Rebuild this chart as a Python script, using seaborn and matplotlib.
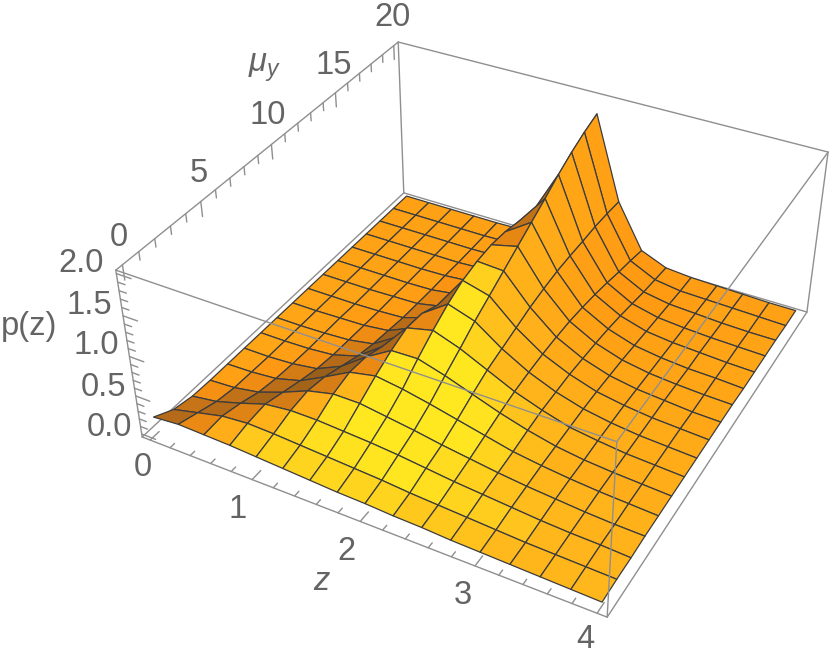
import numpy as np
import seaborn as sns
import matplotlib
matplotlib.use('Agg')
import matplotlib.pyplot as plt

# values, one row per mu_y mesh line
z_values = [0, 0.25, 0.5, 0.75, 1, 1.25, 1.5, 1.75, 2, 2.25, 2.5, 2.75, 3, 3.25, 3.5, 3.75, 4]
mu_values = [0, 1.25, 2.5, 3.75, 5, 6.25, 7.5, 8.75, 10, 11.25, 12.5, 13.75, 15, 16.25, 17.5, 18.75, 20]
p_values = [
    [.19, .22, .21, .20, .18, .16, .14, .12, .11, .09, .08, .06, .05, .04, .03, .02, .01],
    [.06, .14, .22, .25, .24, .22, .20, .18, .16, .13, .11, .09, .07, .05, .04, .03, .02],
    [.01, .06, .16, .27, .31, .31, .29, .27, .24, .20, .16, .13, .10, .07, .05, .04, .02],
    [.00, .02, .08, .20, .34, .42, .42, .37, .32, .26, .21, .16, .12, .09, .06, .04, .03],
    [.00, .01, .04, .13, .30, .48, .55, .50, .43, .35, .27, .19, .14, .10, .07, .05, .03],
    [.00, .00, .02, .07, .22, .46, .66, .67, .57, .45, .33, .23, .15, .10, .07, .05, .03],
    [.00, .00, .01, .04, .14, .38, .74, .82, .70, .54, .38, .26, .16, .11, .07, .05, .03],
    [.00, .00, .01, .03, .09, .30, .72, .95, .84, .60, .41, .27, .17, .11, .07, .05, .03],
    [.00, .00, .01, .02, .06, .21, .62, 1.05, .96, .66, .43, .28, .17, .11, .07, .05, .03],
    [.00, .00, .00, .01, .03, .14, .50, 1.10, 1.08, .72, .44, .27, .16, .10, .07, .04, .03],
    [.00, .00, .00, .01, .02, .09, .40, 1.12, 1.20, .76, .44, .26, .15, .09, .06, .04, .03],
    [.00, .00, .00, .00, .01, .06, .32, 1.10, 1.32, .79, .42, .24, .13, .08, .05, .04, .02],
    [.00, .00, .00, .00, .01, .04, .25, 1.05, 1.44, .80, .39, .21, .11, .07, .05, .03, .02],
    [.00, .00, .00, .00, .00, .02, .18, .98, 1.57, .80, .35, .17, .09, .06, .04, .03, .02],
    [.00, .00, .00, .00, .00, .01, .13, .90, 1.68, .81, .30, .13, .07, .05, .03, .02, .02],
    [.00, .00, .00, .00, .00, .01, .09, .82, 1.77, .80, .26, .10, .05, .04, .03, .02, .01],
    [.00, .00, .00, .00, .00, .01, .06, .75, 1.84, .78, .21, .07, .04, .03, .02, .01, .01],
]
z_ticks = ['0', '1', '2', '3', '4']
mu_ticks = ['0', '5', '10', '15', '20']
p_ticks = ['0.0', '0.5', '1.0', '1.5', '2.0']

Z_LO, Z_HI = -0.08, 4.08
MU_LO, MU_HI = -0.4, 20.4
P_LO, P_HI = -0.04, 2.04
BOX = '#8f8f8f'
TEXT = '#646464'

sns.set_theme(style='white')
plt.rcParams['font.family'] = ['Liberation Sans', 'DejaVu Sans']
plt.rcParams['mathtext.fontset'] = 'custom'
plt.rcParams['mathtext.it'] = 'Liberation Sans:italic'
plt.rcParams['mathtext.rm'] = 'Liberation Sans'

W, H = 830, 655
fig = plt.figure(figsize=(W / 100, H / 100), dpi=100, facecolor='white')
# 3d axes are forced square, so make the square as wide as the figure
ax = fig.add_axes([0, (H - W) / 2 / H, 1, W / H], projection='3d', computed_zorder=False)
ax.set_axis_off()

X, Y = np.meshgrid(z_values, mu_values)
P = np.array(p_values)


def cell_shades():
    # lambert style shade per mesh cell, in box units, lamp off the front right corner
    nx = (X[0, 1] - X[0, 0]) / (Z_HI - Z_LO)
    ny = (Y[1, 0] - Y[0, 0]) / (MU_HI - MU_LO)
    pz = P / (P_HI - P_LO)
    dx = (pz[:-1, 1:] + pz[1:, 1:] - pz[:-1, :-1] - pz[1:, :-1]) / 2 / nx
    dy = (pz[1:, :-1] + pz[1:, 1:] - pz[:-1, :-1] - pz[:-1, 1:]) / 2 / ny
    normal = np.stack([-dx, -dy, np.ones_like(dx)], axis=-1)
    normal /= np.linalg.norm(normal, axis=-1, keepdims=True)
    cx = (X[:-1, :-1] + X[1:, 1:]) / 2 / Z_HI
    cy = (Y[:-1, :-1] + Y[1:, 1:]) / 2 / MU_HI
    cz = (pz[:-1, :-1] + pz[1:, 1:]) / 2
    light = np.stack([1.3 - cx, -1.3 - cy, 1.0 - cz], axis=-1)
    light /= np.linalg.norm(light, axis=-1, keepdims=True)
    return (normal * light).sum(axis=-1)


ramp = sns.blend_palette(['#6e4a1c', '#b86c18', '#ff9612', '#ffb81c', '#ffe820'], as_cmap=True)
shade = np.interp(cell_shades(), [-0.55, -0.25, 0.22, 0.68, 0.9], [0, 0.25, 0.5, 0.75, 1])

surf = ax.plot_surface(X, Y, P, facecolors=ramp(shade), rstride=1, cstride=1, shade=False, zorder=2)
surf.set_edgecolor('#3c3c3c')
surf.set_linewidth(0.9)


def box_line(a, b, zorder):
    ax.plot([a[0], b[0]], [a[1], b[1]], [a[2], b[2]], color=BOX, lw=1.0, zorder=zorder)


c000 = (Z_LO, MU_LO, P_LO)
c100 = (Z_HI, MU_LO, P_LO)
c010 = (Z_LO, MU_HI, P_LO)
c110 = (Z_HI, MU_HI, P_LO)
c001 = (Z_LO, MU_LO, P_HI)
c101 = (Z_HI, MU_LO, P_HI)
c011 = (Z_LO, MU_HI, P_HI)
c111 = (Z_HI, MU_HI, P_HI)

# edges behind the surface
for a, b in [(c000, c100), (c000, c010), (c100, c110), (c010, c110), (c000, c001), (c010, c011),
             (c001, c011), (c011, c111), (c110, c111)]:
    box_line(a, b, 1)
# edges in front of it
for a, b in [(c001, c101), (c101, c111), (c100, c101)]:
    box_line(a, b, 3)

# ticks
for t in np.arange(0, 4.01, 0.2):
    n = 0.6 if abs(t - round(t)) < 1e-6 else 0.3
    box_line((t, MU_LO, P_LO), (t, MU_LO + n, P_LO), 1)
for t in np.arange(0, 20.1, 1):
    n = 0.18 if t % 5 == 0 else 0.1
    box_line((Z_LO, t, P_HI), (Z_LO, t, P_HI - n), 1)
for t in np.arange(0, 2.01, 0.1):
    n = 0.14 if round(t * 10) % 5 == 0 else 0.07
    box_line((Z_LO, MU_LO, t), (Z_LO + n, MU_LO, t), 1)

fig.canvas.draw()

# camera: fit the projection to where the eight box corners sit in the picture
corners = [c000, c100, c010, c110, c001, c101, c011, c111]
pixels = [(142, 437), (607, 617), (404, 193), (807, 312), (116, 270), (617, 442), (398, 42), (828, 152)]
rows, rhs = [], []
for (a, b, c), (u, v) in zip(corners, pixels):
    v = H - v
    rows.append([a, b, c, 1, 0, 0, 0, 0, -u * a, -u * b, -u * c])
    rows.append([0, 0, 0, 0, a, b, c, 1, -v * a, -v * b, -v * c])
    rhs += [u, v]
h = np.linalg.lstsq(np.array(rows), np.array(rhs, dtype=float), rcond=None)[0]
cam = np.append(h, 1.0).reshape(3, 4)
cam = ax.transData.inverted().get_matrix() @ cam
M = np.array([cam[0], cam[1], [0, 0, 0, -1.0], cam[2]])
ax.get_proj = lambda: M


def label(x, y, s, **kw):
    fig.text(x / W, 1 - y / H, s, color=TEXT, fontsize=23.5, va='center', **kw)


for s, pos in zip(z_ticks, [(143, 468), (238, 510), (346, 552), (463, 595), (585, 639)]):
    label(pos[0], pos[1], s, ha='center')
for s, pos in zip(mu_ticks, [(119, 237), (199, 174), (268, 116), (334, 65), (392, 18)]):
    label(pos[0], pos[1], s, ha='center')
for s, pos in zip(p_ticks, [(132, 427), (126, 388), (119, 345), (112, 305), (104, 263)]):
    label(pos[0], pos[1], s, ha='right')
label(29, 326, 'p(z)', ha='center')
label(321, 581, 'z', ha='center', style='italic')
label(265, 68, r'$\mu_y$', ha='center')

fig.savefig('out.png', dpi=100)
